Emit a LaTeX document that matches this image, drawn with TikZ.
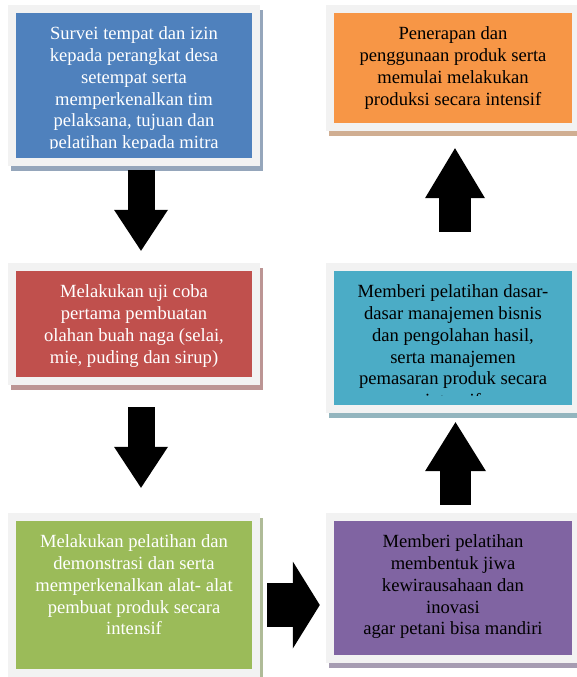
\documentclass[tikz,border=0pt]{standalone}
\usepackage{fontspec}
\setmainfont{Liberation Serif}
\usetikzlibrary{shadows,arrows.meta,calc}
\definecolor{boxblue}{HTML}{4F81BD}
\definecolor{boxred}{HTML}{C0504D}
\definecolor{boxgreen}{HTML}{9BBB59}
\definecolor{boxpurple}{HTML}{8064A2}
\definecolor{boxteal}{HTML}{4BACC6}
\definecolor{boxorange}{HTML}{F79646}
\definecolor{framegray}{HTML}{F2F2F2}
\tikzset{
  flowbox/.style={fill=framegray,inner sep=0pt,minimum width=252pt,
    drop shadow={shadow xshift=3pt,shadow yshift=-5pt,fill=#1!50!gray!70!white,opacity=1},
    path picture={\fill[#1]([shift={(8,8)}]path picture bounding box.north west) rectangle ([shift={(-8,-8)}]path picture bounding box.south east);}},
  boxtext/.style={align=center,inner sep=0pt,anchor=north,font=\fontsize{18.6}{21.7}\selectfont},
  blkarrow/.style n args={3}{line width=#1pt,-{Triangle[width=#2pt,length=#3pt,line width=0pt]}},
}
\begin{document}
\begin{tikzpicture}[x=1pt,y=-1pt]
\pgfmathsetmacro{\kin}{8}
\pgfmathsetmacro{\kclip}{18}
\pgfmathsetmacro{\ktop}{22}
\useasboundingbox (0,0) rectangle (576,677);
\node[flowbox=boxblue,minimum height=161pt] (b1) at (134,85.5) {};
\node[flowbox=boxred,minimum height=122pt] (b2) at (134,324) {};
\node[flowbox=boxgreen,minimum height=164pt] (b3) at (134,595) {};
\node[flowbox=boxpurple,minimum width=254pt,minimum height=150pt] (b4) at (453,588) {};
\node[flowbox=boxteal,minimum width=254pt,minimum height=150pt] (b5) at (453,338) {};
\node[flowbox=boxorange,minimum width=254pt,minimum height=126pt] (b6) at (453,68) {};
\foreach \kb/\kcol/\ktxt in {b1/white/{Survei tempat dan izin\\kepada perangkat desa\\setempat serta\\memperkenalkan tim\\pelaksana, tujuan dan\\pelatihan kepada mitra},
  b2/white/{Melakukan uji coba\\pertama pembuatan\\olahan buah naga (selai,\\mie, puding dan sirup)},
  b3/white/{Melakukan pelatihan dan\\demonstrasi dan serta\\memperkenalkan alat- alat\\pembuat produk secara\\intensif},
  b4/black/{Memberi pelatihan\\membentuk jiwa\\kewirausahaan dan\\inovasi\\agar petani bisa mandiri},
  b5/black/{Memberi pelatihan dasar-\\dasar manajemen bisnis\\dan pengolahan hasil,\\serta manajemen\\pemasaran produk secara\\intensif},
  b6/black/{Penerapan dan\\penggunaan produk serta\\memulai melakukan\\produksi secara intensif}}{
\begin{scope}
\clip ([shift={(\kin,\kin)}]\kb.north west) rectangle ([shift={(-\kin,-\kclip)}]\kb.south east);
\node[boxtext,text=\kcol] (\kb-txt) at ([shift={(0,\ktop)}]\kb.north) {\ktxt};
\end{scope}
}
\draw[blkarrow={27}{54}{41}] ([shift={(7,4)}]b1.south) -- ([shift={(7,-12)}]b2.north);
\draw[blkarrow={27}{54}{41}] ([shift={(7,22)}]b2.south) -- ([shift={(7,-25)}]b3.north);
\draw[blkarrow={44}{87}{27}] ([shift={(7,10)}]b3.east) -- ($(b3.east -| b4.west)+(-6,10)$);
\draw[blkarrow={31}{61}{49}] ([shift={(2.5,-8)}]b4.north) -- ([shift={(2.5,9)}]b5.south);
\draw[blkarrow={32}{60}{50}] ([shift={(2,-31)}]b5.north) -- ([shift={(2,17)}]b6.south);
\end{tikzpicture}
\end{document}
